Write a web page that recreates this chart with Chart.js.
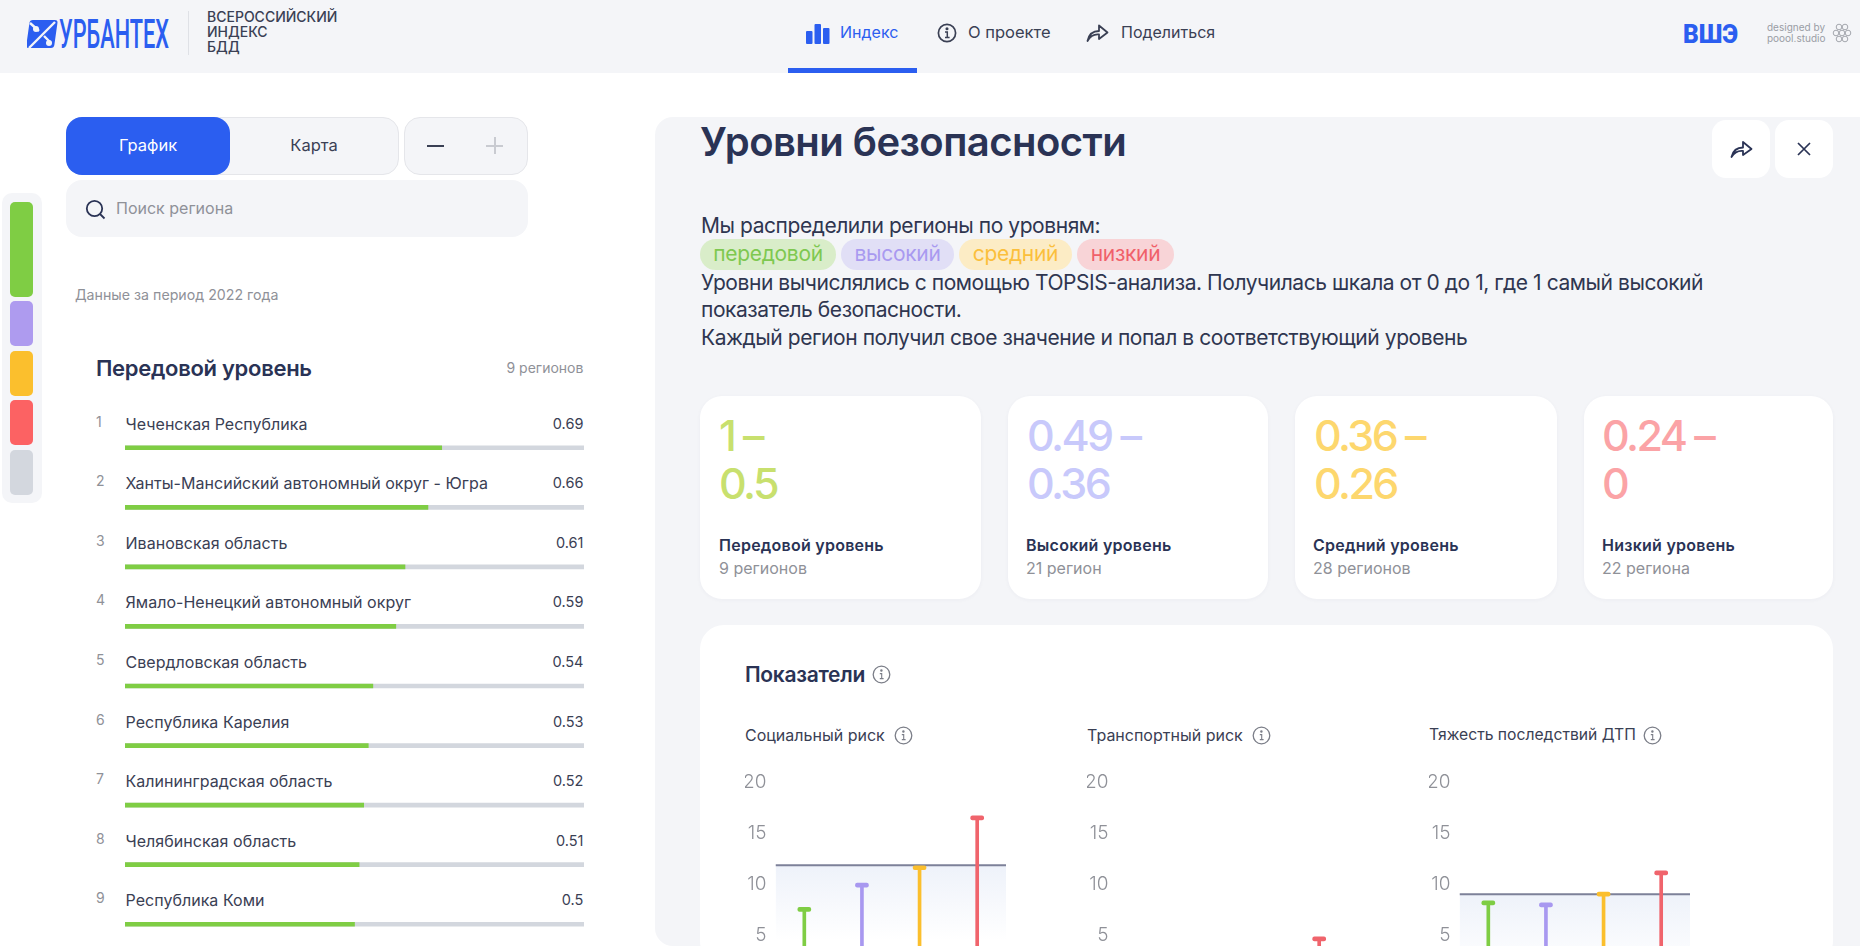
<!DOCTYPE html>
<html lang="ru">
<head>
<meta charset="UTF-8">
<title>Уровни безопасности</title>
<script src="https://cdn.jsdelivr.net/npm/chart.js"></script>
<style>
  html, body { margin: 0; padding: 0; width: 1860px; height: 946px; overflow: hidden; background: #fff; }
  body { position: relative; font-family: Inter, "Noto Sans", sans-serif; color: #2a3355; }
  .abs, canvas { position: absolute; }
  .t { position: absolute; white-space: nowrap; line-height: 1; transform: translateY(-50%); }
  .grey { color: #8f9198; }
  .box { position: absolute; box-sizing: border-box; }
  .card { position: absolute; background: #fff; border-radius: 22px; box-shadow: 0 1px 4px rgba(40,50,90,.04); top: 396px; height: 203px; }
  .sw { position: absolute; left: 10px; width: 23px; border-radius: 5px; }
  .big { position: absolute; font-size: 43px; font-weight: 500; line-height: 48px; top: 411px; letter-spacing: -2.6px; white-space: nowrap; }
  .chip { position: absolute; top: 239px; height: 31px; border-radius: 16px; text-align: center; font-size: 21px; line-height: 30px; letter-spacing: -.3px; }
  .para { position: absolute; left: 701px; font-size: 21px; letter-spacing: -.44px; white-space: nowrap; line-height: 1; transform: translateY(-50%); color: #2f3650; }
  .info { position: absolute; }
</style>
</head>
<body>

<!-- шапка -->
<div class="box" style="left:0;top:0;width:1860px;height:73px;background:#f4f5f8"></div>
<svg class="abs" style="left:27px;top:19px" width="144" height="30" viewBox="0 0 144 30">
  <rect x="0" y="1" width="28" height="28" rx="3" fill="#2b5ef0" transform="skewX(-8) translate(3 0)"/>
  <path d="M2 29 L28 3 M3 4 L12 12 M17 17 L24 24" stroke="#f4f5f8" stroke-width="2.4" fill="none"/>
  <circle cx="9" cy="10" r="3" fill="#f4f5f8"/><circle cx="22" cy="24" r="3" fill="#f4f5f8"/>
  <text x="32" y="29" font-family="Roboto" font-weight="500" font-size="40" fill="#2b5ef0" textLength="110" lengthAdjust="spacingAndGlyphs">УРБАНТЕХ</text>
</svg>
<div class="box" style="left:188px;top:11px;width:1px;height:44px;background:#dfe1e6"></div>
<div class="t" style="left:207px;top:17px;font-size:14px;font-weight:500;color:#3a4054">ВСЕРОССИЙСКИЙ</div>
<div class="t" style="left:207px;top:32px;font-size:14px;font-weight:500;color:#3a4054">ИНДЕКС</div>
<div class="t" style="left:207px;top:47px;font-size:14px;font-weight:500;color:#3a4054">БДД</div>

<svg class="abs" style="left:806px;top:23px" width="24" height="21" viewBox="0 0 24 21" fill="#2b5ef0">
  <rect x="0" y="8" width="6.5" height="13" rx="1"/><rect x="8.5" y="1" width="6.5" height="20" rx="1"/><rect x="17" y="5" width="6.5" height="16" rx="1"/>
</svg>
<div class="t" style="left:840px;top:32px;font-size:16px;color:#2b5ef0">Индекс</div>
<svg class="abs" style="left:937px;top:23px" width="20" height="20" viewBox="0 0 20 20" fill="none" stroke="#3a4054" stroke-width="1.7">
  <circle cx="10" cy="10" r="8.6"/><path d="M8 9h2.3v5.4M8 14.4h4.6" stroke-width="1.5"/><circle cx="10" cy="5.8" r=".7" fill="#3a4054"/>
</svg>
<div class="t" style="left:968px;top:32px;font-size:16.5px;color:#3a4054">О проекте</div>
<svg class="abs" style="left:1086px;top:22px" width="23" height="21" viewBox="0 0 23 21" fill="none" stroke="#3a4054" stroke-width="1.8" stroke-linejoin="round">
  <path d="M1.5 19 C3 12 7 9 13 9 V3.5 L21.5 10.5 L13 17 V12.5 C8 12 4 14.5 1.5 19 Z"/>
</svg>
<div class="t" style="left:1121px;top:32px;font-size:16px;color:#3a4054">Поделиться</div>
<div class="box" style="left:788px;top:68px;width:129px;height:5px;background:#2b5ef0"></div>

<svg class="abs" style="left:1683px;top:23px" width="56" height="22" viewBox="0 0 56 22">
  <text x="0" y="20" font-family="Roboto" font-weight="900" font-size="25" fill="#2b5ef0" textLength="55" lengthAdjust="spacingAndGlyphs">ВШЭ</text>
</svg>
<div class="t" style="left:1767px;top:27px;font-size:10px;color:#9a9da5">designed by</div>
<div class="t" style="left:1767px;top:38px;font-size:10px;color:#9a9da5">poool.studio</div>
<svg class="abs" style="left:1832px;top:23px" width="20" height="20" viewBox="0 0 20 20" fill="none" stroke="#a4a7ae" stroke-width="1">
  <circle cx="7" cy="4" r="2.8"/><circle cx="13" cy="4" r="2.8"/><circle cx="4" cy="10" r="2.8"/><circle cx="10" cy="10" r="2.8"/><circle cx="16" cy="10" r="2.8"/><circle cx="7" cy="16" r="2.8"/><circle cx="13" cy="16" r="2.8"/>
</svg>

<!-- левая колонка -->
<div class="box" style="left:2px;top:193px;width:39.5px;height:310px;background:#f4f5f8;border-radius:10px"></div>
<div class="sw" style="top:202px;height:95px;background:#7fcd44"></div>
<div class="sw" style="top:301px;height:45px;background:#ae9bef"></div>
<div class="sw" style="top:351px;height:45px;background:#fbbf2d"></div>
<div class="sw" style="top:400px;height:45px;background:#fc6263"></div>
<div class="sw" style="top:450px;height:45px;background:#d3d7de"></div>

<div class="box" style="left:66px;top:117px;width:333px;height:58px;background:#f4f5f8;border:1px solid #e5e6ea;border-radius:16px"></div>
<div class="box" style="left:66px;top:117px;width:164px;height:58px;background:#2b5ef0;border-radius:16px"></div>
<div class="t" style="left:148px;top:145px;font-size:16.5px;color:#fff;transform:translate(-50%,-50%)">График</div>
<div class="t" style="left:314px;top:145px;font-size:16.5px;color:#3a4054;transform:translate(-50%,-50%)">Карта</div>
<div class="box" style="left:404px;top:117px;width:124px;height:58px;background:#f4f5f8;border:1px solid #e5e6ea;border-radius:16px"></div>
<div class="box" style="left:427px;top:145px;width:17px;height:2px;background:#3a4054"></div>
<div class="box" style="left:486px;top:145px;width:17px;height:2px;background:#c9cbd1"></div>
<div class="box" style="left:494px;top:137px;width:2px;height:17px;background:#c9cbd1"></div>
<div class="box" style="left:66px;top:180px;width:462px;height:57px;background:#f4f5f8;border-radius:16px"></div>
<svg class="abs" style="left:85px;top:199px" width="21" height="21" viewBox="0 0 21 21" fill="none" stroke="#2a3355" stroke-width="1.8">
  <circle cx="9.5" cy="9.5" r="7.7"/><path d="M15 15l4.5 4.5"/>
</svg>
<div class="t grey" style="left:116px;top:208px;font-size:16px">Поиск региона</div>
<div class="t grey" style="left:75px;top:294.5px;font-size:14.2px">Данные за период 2022 года</div>
<div class="t" style="left:96px;top:367.5px;font-size:22px;font-weight:600;letter-spacing:-.3px">Передовой уровень</div>
<div class="t grey" style="right:1276.6px;top:368px;font-size:14px">9 регионов</div>
<div id="rows"></div>
<canvas id="regionBars"></canvas>

<!-- правая панель -->
<div class="box" style="left:655px;top:117px;width:1205px;height:829px;background:#f4f5f8;border-radius:18px 0 0 18px"></div>
<div class="t" style="left:700px;top:142px;font-size:40px;font-weight:600;letter-spacing:-.55px">Уровни безопасности</div>
<div class="box" style="left:1712px;top:120px;width:58px;height:58px;background:#fff;border-radius:14px"></div>
<div class="box" style="left:1775px;top:120px;width:58px;height:58px;background:#fff;border-radius:14px"></div>
<svg class="abs" style="left:1730px;top:139px" width="23" height="20" viewBox="0 0 23 20" fill="none" stroke="#2a3355" stroke-width="1.8" stroke-linejoin="round">
  <path d="M1.5 18 C3 11.5 7 8.5 13 8.5 V3 L21.5 10 L13 16 V12 C8 11.5 4 14 1.5 18 Z"/>
</svg>
<svg class="abs" style="left:1797px;top:142px" width="14" height="14" viewBox="0 0 14 14" stroke="#2a3355" stroke-width="1.7">
  <path d="M1 1l12 12M13 1L1 13"/>
</svg>

<div class="para" style="top:224.5px">Мы распределили регионы по уровням:</div>
<div class="chip" style="left:700px;width:136px;background:#d9edc9;color:#7ec850">передовой</div>
<div class="chip" style="left:841px;width:113px;background:#e1dff6;color:#a99af0">высокий</div>
<div class="chip" style="left:959px;width:113px;background:#fcecc5;color:#fbbf3c">средний</div>
<div class="chip" style="left:1077px;width:97px;background:#f8d4d7;color:#f0606a">низкий</div>
<div class="para" style="top:282px">Уровни вычислялись с помощью TOPSIS-анализа. Получилась шкала от 0 до 1, где 1 самый высокий</div>
<div class="para" style="top:309px">показатель безопасности.</div>
<div class="para" style="top:336.5px">Каждый регион получил свое значение и попал в соответствующий уровень</div>

<div class="card" style="left:700px;width:281px"></div>
<div class="card" style="left:1008px;width:260px"></div>
<div class="card" style="left:1295px;width:262px"></div>
<div class="card" style="left:1584px;width:249px"></div>
<div class="big" style="left:719px;color:#c8e06e">1 –<br>0.5</div>
<div class="big" style="left:1027px;color:#c8c9fb">0.49 –<br>0.36</div>
<div class="big" style="left:1314px;color:#fdd76e">0.36 –<br>0.26</div>
<div class="big" style="left:1602px;color:#fba3a6">0.24 –<br>0</div>
<div class="t" style="left:719px;top:545px;font-size:16px;font-weight:600;letter-spacing:.25px">Передовой уровень</div>
<div class="t grey" style="left:719px;top:567.5px;font-size:16px">9 регионов</div>
<div class="t" style="left:1026px;top:545px;font-size:16px;font-weight:600;letter-spacing:.25px">Высокий уровень</div>
<div class="t grey" style="left:1026px;top:567.5px;font-size:16px">21 регион</div>
<div class="t" style="left:1313px;top:545px;font-size:16px;font-weight:600;letter-spacing:.25px">Средний уровень</div>
<div class="t grey" style="left:1313px;top:567.5px;font-size:16px">28 регионов</div>
<div class="t" style="left:1602px;top:545px;font-size:16px;font-weight:600;letter-spacing:.25px">Низкий уровень</div>
<div class="t grey" style="left:1602px;top:567.5px;font-size:16px">22 региона</div>

<div class="box" style="left:700px;top:625px;width:1133px;height:340px;background:#fff;border-radius:24px"></div>
<div class="t" style="left:745px;top:674px;font-size:21px;font-weight:600;letter-spacing:-.3px">Показатели</div>
<div id="icons"></div>
<div class="t" style="left:745px;top:734.5px;font-size:16px;color:#3a4054">Социальный риск</div>
<div class="t" style="left:1087px;top:734.5px;font-size:16px;color:#3a4054">Транспортный риск</div>
<div class="t" style="left:1429px;top:734.5px;font-size:15.7px;color:#3a4054">Тяжесть последствий ДТП</div>
<canvas id="chartSocial"></canvas>
<canvas id="chartTransport"></canvas>
<canvas id="chartSeverity"></canvas>

<script>
// список регионов
var regionNames = ["Чеченская Республика","Ханты-Мансийский автономный округ - Югра","Ивановская область","Ямало-Ненецкий автономный округ","Свердловская область","Республика Карелия","Калининградская область","Челябинская область","Республика Коми"];
var regionValues = [0.69,0.66,0.61,0.59,0.54,0.53,0.52,0.51,0.5];

// показатели по уровням
var levels = ["Передовой","Высокий","Средний","Низкий"];
var levelColors = ["#7fcd44","#a898f0","#fbbf2d","#f0646c"];
var yTicks = [0,5,10,15,20];
var socialRisk = [7.5,9.9,11.6,16.5];
var socialMean = 11.85;
var transportRisk = [1.9,2.4,3.1,4.6];
var transportMean = 3.1;
var severity = [8.15,7.95,9.0,11.1];
var severityMean = 9.0;

Chart.defaults.font.family = "Inter";
Chart.defaults.animation = false;

function place(canvas, left, top, width, height){
  canvas.width = width;
  canvas.height = height;
  canvas.style.left = left + "px";
  canvas.style.top = top + "px";
  canvas.style.width = width + "px";
  canvas.style.height = height + "px";
}

// строки с подписями над полосками
var rows = document.querySelector("#rows");
regionNames.forEach(function(name, i){
  var y = 423.5 + i * 59.6;
  rows.innerHTML += '<div class="t grey" style="left:96px;top:' + (y - 2) + 'px;font-size:14px">' + (i + 1) + '</div>'
    + '<div class="t" style="left:125.5px;top:' + y + 'px;font-size:16px;letter-spacing:.03px;color:#3a4054">' + name + '</div>'
    + '<div class="t" style="right:1276.6px;top:' + y + 'px;font-size:14.5px;color:#3a4054">' + regionValues[i].toFixed(2).replace(/0$/, "") + '</div>';
});

place(document.querySelector("#regionBars"), 125, 418, 459, 536);
new Chart(document.querySelector("#regionBars"), {
  type: "bar",
  data: {
    labels: regionNames,
    datasets: [
      {data: regionValues, backgroundColor: "#7fcd44", barThickness: 4, grouped: false, order: 1},
      {data: regionValues.map(function(){ return 1; }), backgroundColor: "#d3d7de", barThickness: 4, grouped: false, order: 2}
    ]
  },
  options: {
    indexAxis: "y",
    responsive: false,
    plugins: {legend: {display: false}, tooltip: {enabled: false}},
    scales: {
      x: {display: false, min: 0, max: 1},
      y: {display: false}
    }
  }
});

function makeChart(id, left, values, mean){
  var canvas = document.querySelector(id);
  // подпись крайней отметки и ticks.padding дают ~20px сверху и снизу области графика
  place(canvas, left, 762, 261, 244);
  new Chart(canvas, {
    type: "bar",
    data: {
      labels: levels,
      datasets: [
        // шапка столбика
        {data: values.map(function(v){ return [v - 0.2, v + 0.2]; }), backgroundColor: levelColors, barThickness: 13, borderRadius: 2, borderSkipped: false, grouped: false, order: 1},
        // ножка
        {data: values, backgroundColor: levelColors, barThickness: 3, grouped: false, order: 2},
        // средний уровень на всю ширину графика
        {
          type: "line",
          xAxisID: "xMean",
          data: [{x: 0, y: mean}, {x: 1, y: mean}],
          borderColor: "#7d8199",
          borderWidth: 2,
          pointRadius: 0,
          fill: "origin",
          backgroundColor: function(context){
            var chart = context.chart;
            if(!chart.chartArea) return "#eef2fa";
            var top = chart.scales.y.getPixelForValue(mean);
            var g = chart.ctx.createLinearGradient(0, top, 0, top + 75);
            g.addColorStop(0, "#eef2fa");
            g.addColorStop(1, "#ffffff");
            return g;
          },
          order: 3
        }
      ]
    },
    options: {
      responsive: false,
      plugins: {legend: {display: false}, tooltip: {enabled: false}},
      scales: {
        x: {display: false},
        xMean: {type: "linear", display: false, offset: false, min: 0, max: 1},
        y: {
          min: 0,
          max: 20,
          afterBuildTicks: function(axis){ axis.ticks = yTicks.map(function(v){ return {value: v}; }); },
          afterFit: function(axis){ axis.width = 30.5; },
          border: {display: false},
          grid: {display: false, drawTicks: false},
          ticks: {padding: 9, color: "#8f9198", font: {size: 19, weight: 300}}
        }
      }
    }
  });
}

makeChart("#chartSocial", 745, socialRisk, socialMean);
makeChart("#chartTransport", 1086.5, transportRisk, transportMean);
makeChart("#chartSeverity", 1428.5, severity, severityMean);

// значки "i"
var infoAt = [[881,674],[903,735],[1261.5,735],[1652,735]];
infoAt.forEach(function(p){
  document.querySelector("#icons").innerHTML += '<svg class="info" style="left:' + (p[0]-9.5) + 'px;top:' + (p[1]-9.5) + 'px" width="19" height="19" viewBox="0 0 19 19" fill="none" stroke="#7b7e88" stroke-width="1.3"><circle cx="9.5" cy="9.5" r="8.3"/><path d="M7.8 8.6h1.9v5M7.8 13.6h3.8" stroke-width="1.1"/><circle cx="9.4" cy="5.6" r=".6" fill="#7b7e88"/></svg>';
});
</script>
</body>
</html>
